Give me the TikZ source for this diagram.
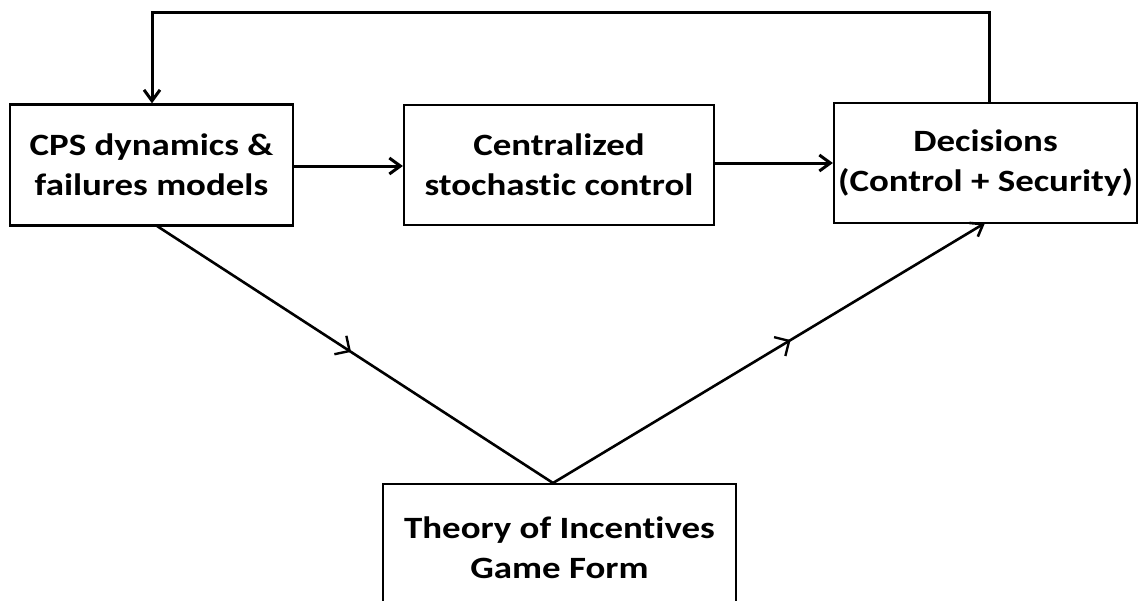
\documentclass[tikz,border=0pt]{standalone}
\usepackage{fontspec}
\setmainfont{Carlito}[Ligatures=NoCommon,FakeStretch=1.19]
\usetikzlibrary{arrows.meta,decorations.markings,calc}
\begin{document}
\begin{tikzpicture}[x=1pt,y=1pt,
  boxfont/.style={font=\fontsize{31}{40}\selectfont\bfseries},
  blk/.style={draw=black,line width=2.2pt,fill=white,align=center,inner sep=0pt,boxfont},
  link/.style={line width=3pt,-{Straight Barb[length=11pt,width=16pt,line width=3pt]}},
  midarrow/.style={line width=2.6pt,postaction={decorate},decoration={markings,
    mark=at position #1 with {\arrow{Straight Barb[length=11pt,width=22pt,line width=2.4pt]}}}}]
\useasboundingbox (0,0) rectangle (1138,-600);
\fill[white] (0,0) rectangle (1138,-600);
\node[blk,minimum width=283pt,minimum height=121pt] (cps) at (151.5,-165) {CPS dynamics \&\\failures models};
\node[blk,minimum width=310pt,minimum height=120pt] (csc) at (559,-165) {Centralized\\stochastic control};
\node[blk,minimum width=303pt,minimum height=120pt] (dec) at (985.5,-163) {Decisions\\(Control + Security)};
\node[blk,minimum width=353pt,minimum height=140pt,anchor=north] (toi) at (559.5,-483) {};
\node[boxfont,align=center,inner sep=0pt] (toitext) at (559.5,-548) {Theory of Incentives\\Game Form};
\draw[link] (cps.east |- 0,-166) -- (csc.west |- 0,-166);
\draw[link] (csc.east |- 0,-163) -- (dec.west |- 0,-163);
\coordinate (loopR) at (989,-12);
\coordinate (loopL) at (152,-12);
\draw[link] (dec.north -| loopR) -- (loopR) -- (loopL) -- (cps.north -| loopL);
\coordinate (cpsout) at (157,-226);
\coordinate (apex) at (553,-483);
\coordinate (decin) at (985,-223);
\draw[midarrow=0.49] (cpsout) -- (apex);
\draw[midarrow=0.55,-{Straight Barb[length=11pt,width=16pt,line width=2.6pt]}] (apex) -- (decin);
\end{tikzpicture}
\end{document}
